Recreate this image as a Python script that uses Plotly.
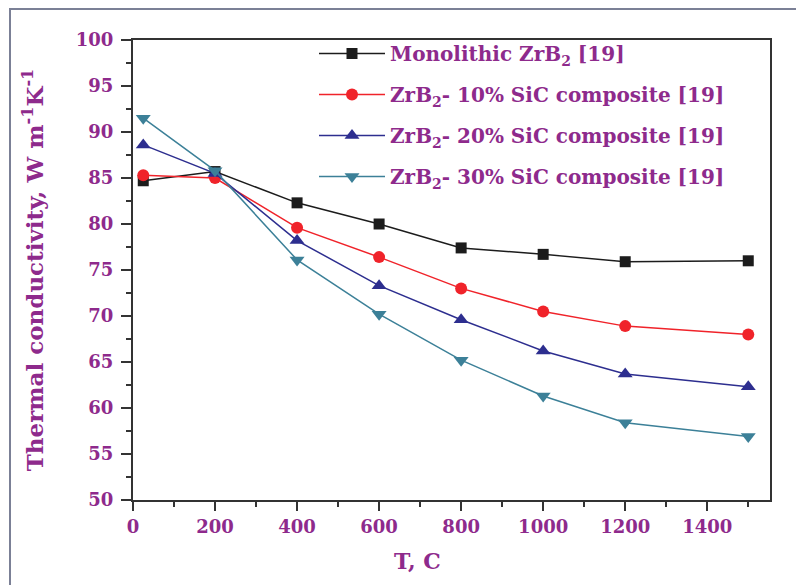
import plotly.graph_objects as go

temps = [25, 200, 400, 600, 800, 1000, 1200, 1500]
mono = [84.7, 85.7, 82.3, 80.0, 77.4, 76.7, 75.9, 76.0]
sic10 = [85.3, 85.0, 79.6, 76.4, 73.0, 70.5, 68.9, 68.0]
sic20 = [88.6, 85.5, 78.2, 73.3, 69.6, 66.2, 63.7, 62.3]
sic30 = [91.5, 85.8, 76.1, 70.2, 65.2, 61.3, 58.4, 56.9]

names = ["Monolithic ZrB<sub>2</sub> [19]",
         "ZrB<sub>2</sub>- 10% SiC composite [19]",
         "ZrB<sub>2</sub>- 20% SiC composite [19]",
         "ZrB<sub>2</sub>- 30% SiC composite [19]"]
colors = ["#1c1c1c", "#f0232a", "#2d2e8f", "#3c8098"]
symbols = ["square", "circle", "triangle-up", "triangle-down"]
sizes = [11, 12, 13, 13]
series = [mono, sic10, sic20, sic30]

PURPLE = "#8e2a8c"
FONT = "DejaVu Serif"

fig = go.Figure()
for i, (n, c, s, sz, ys) in enumerate(zip(names, colors, symbols, sizes, series)):
    fig.add_trace(go.Scatter(
        x=temps, y=ys, name=n, mode="lines+markers", legendgroup=f"g{i}",
        line=dict(color=c, width=1.5),
        marker=dict(color=c, symbol=s, size=sz),
    ))

OFF = 8  # page body margin
W, H = 804 - OFF, 585 - OFF
L, R, T, B = 133 - OFF, 34, 40 - OFF, 85
pw, ph = W - L - R, H - T - B

def px(sx):
    return (sx - OFF - L) / pw

def py(sy):
    return (H - B - (sy - OFF)) / ph

fig.add_shape(type="rect", xref="paper", yref="paper",
              x0=px(10), x1=px(820), y0=py(600), y1=py(9),
              line=dict(color="#7b8096", width=2), layer="below")

axis_common = dict(
    showline=True, linecolor="#333333", linewidth=2, mirror=True,
    ticks="outside", tickcolor="#333333", tickwidth=2,
    showgrid=False, zeroline=False,
    tickfont=dict(family=FONT, size=18, color=PURPLE, weight="bold"),
)

fig.update_xaxes(range=[0, 1553], dtick=200, tick0=0, ticklen=9,
                 minor=dict(dtick=100, ticks="outside", ticklen=5, tickcolor="#333333", tickwidth=2),
                 **axis_common)
fig.update_yaxes(range=[50, 100], dtick=5, tick0=50, ticklen=10, ticklabelstandoff=4,
                 minor=dict(dtick=2.5, ticks="outside", ticklen=5, tickcolor="#333333", tickwidth=2),
                 title=dict(text="Thermal conductivity, W m<sup>-1</sup>K<sup>-1</sup>",
                            font=dict(family=FONT, size=23, color=PURPLE, weight="bold"),
                            standoff=26),
                 **axis_common)

fig.add_annotation(text="T, C", xref="paper", yref="paper", x=px(417), y=py(561),
                   xanchor="center", yanchor="middle", showarrow=False,
                   font=dict(family=FONT, size=22, color=PURPLE, weight="bold"))

fig.update_layout(
    width=W, height=H,
    margin=dict(l=L, r=R, t=T, b=B, pad=0),
    paper_bgcolor="white", plot_bgcolor="white",
    showlegend=True,
    legend=dict(x=px(314), y=py(34), xanchor="left", yanchor="top",
                bgcolor="rgba(0,0,0,0)", borderwidth=0,
                font=dict(family=FONT, size=20, color=PURPLE, weight="bold"),
                itemwidth=66, tracegroupgap=12, traceorder="grouped"),
)

fig.write_html("out.html")
